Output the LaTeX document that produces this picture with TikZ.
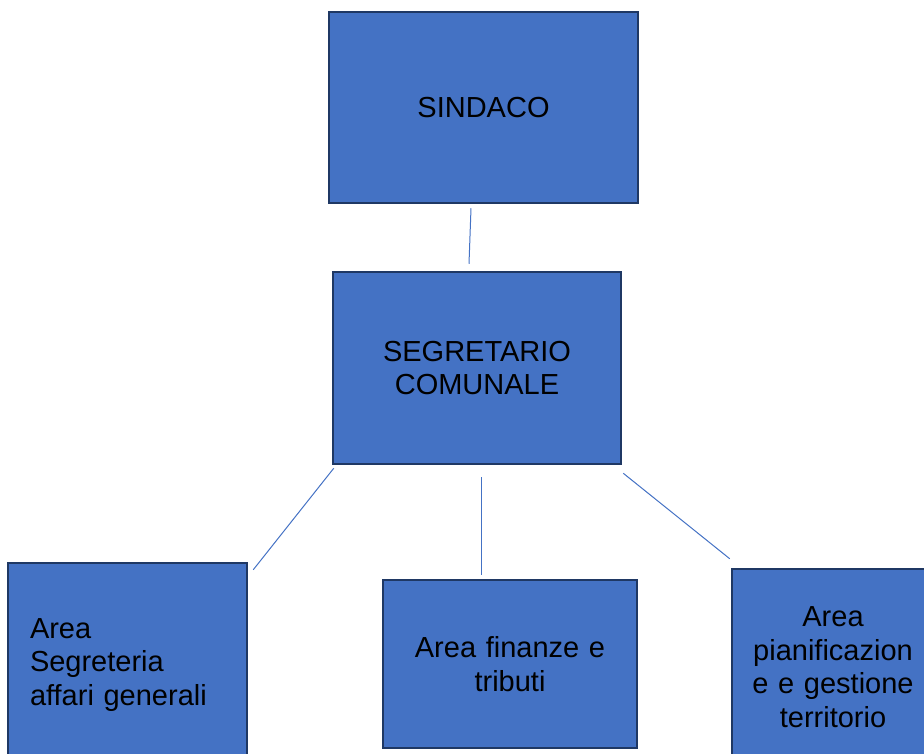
\documentclass[tikz,border=0pt]{standalone}
\usepackage{fontspec}
\setmainfont{Liberation Sans}
\definecolor{boxfill}{HTML}{4472C4}
\definecolor{boxline}{HTML}{1F3864}
\begin{document}
\begin{tikzpicture}[x=1pt,y=-1pt,
  orgbox/.style={draw=boxline,fill=boxfill,line width=2.5pt,inner sep=0pt,
    font=\fontsize{29}{33.5}\selectfont,align=center},
  conn/.style={draw=boxfill,line width=1pt}]
\useasboundingbox (0,0) rectangle (924,753);
\node[orgbox,minimum width=309pt,minimum height=191pt] (s) at (483.5,107.5) {SINDACO};
\node[orgbox,minimum width=288pt,minimum height=192pt] (g) at (477,368) {SEGRETARIO\\COMUNALE};
\node[orgbox,minimum width=239pt,minimum height=204pt,align=left,text width=195pt] (l) at (127.5,665) {Area\\Segreteria\\affari generali};
\node[orgbox,minimum width=254pt,minimum height=168pt,text width=220pt] (m) at (510,664) {Area finanze e\\tributi};
\node[orgbox,minimum width=202pt,minimum height=196pt,text width=190pt] (r) at (833,667) {Area\\pianificazion\\e e gestione\\territorio};
\draw[conn] ([xshift=-12.5pt,yshift=-4pt]s.south) -- ([xshift=-8pt,yshift=7pt]g.north);
\draw[conn] ([xshift=2pt,yshift=-3pt]g.south west) -- ([xshift=5pt,yshift=-8pt]l.north east);
\draw[conn] ([xshift=4pt,yshift=-12pt]g.south) -- ([xshift=-29pt,yshift=4pt]m.north);
\draw[conn] ([xshift=1pt,yshift=-8pt]g.south east) -- ([xshift=-1pt,yshift=9pt]r.north west);
\end{tikzpicture}
\end{document}
